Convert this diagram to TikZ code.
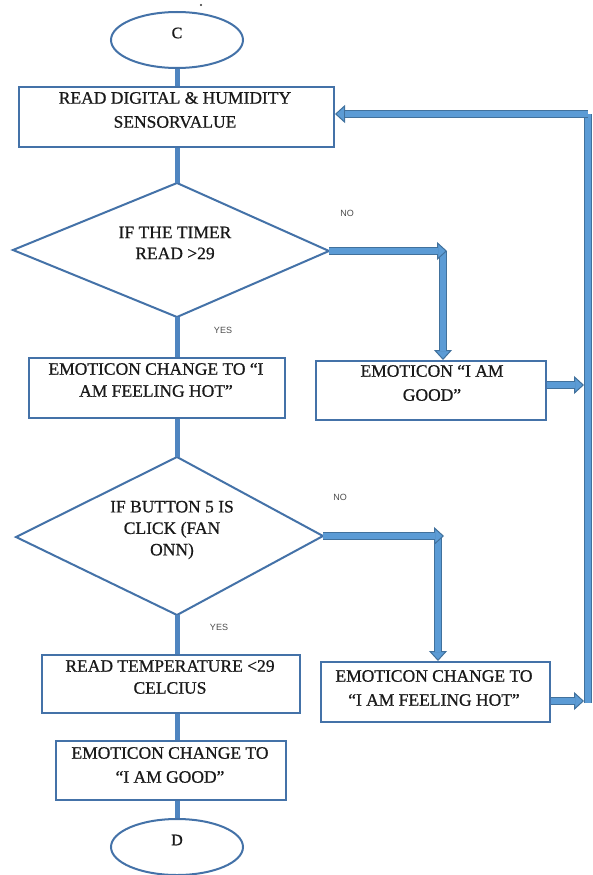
\documentclass[tikz,border=0pt]{standalone}
\usepackage{fontspec}
\setmainfont{Liberation Serif}
\newfontfamily\boxfont{Liberation Serif}[FakeBold=0.7]
\newfontfamily\lblfont{Liberation Sans}
\usetikzlibrary{shapes.geometric,arrows.meta}
\definecolor{outline}{RGB}{68,114,168}
\definecolor{linkblue}{RGB}{79,133,192}
\definecolor{fillblue}{RGB}{91,155,213}
\definecolor{edgeblue}{RGB}{65,113,156}
\tikzset{
  box/.style={draw=outline,line width=2pt,fill=white,rectangle,inner sep=0pt},
  term/.style={draw=outline,line width=2pt,ellipse,inner sep=0pt,
    minimum width=132pt,minimum height=56pt},
  decide/.style={draw=outline,line width=2pt,line join=miter},
  txt/.style={align=center,inner sep=0pt,text=black!90,
    font=\boxfont\fontsize{17.5}{22}\selectfont},
  link/.style={draw=linkblue,line width=5pt},
  fat/.style={draw=edgeblue,line width=8pt,
    -{Triangle[length=10pt,width=18pt,fill=fillblue,line width=1pt]},
    postaction={draw=fillblue,line width=5.6pt,-,shorten >=9.5pt}},
  fatplain/.style={draw=edgeblue,line width=8pt,
    postaction={draw=fillblue,line width=5.6pt}},
  lbl/.style={font=\lblfont\fontsize{9}{10}\selectfont,text=black!70},
}
\begin{document}
\begin{tikzpicture}[x=1pt,y=-1pt]
\useasboundingbox[fill=white] (0,0) rectangle (592,875);

% stray mark above the start terminal
\fill[black!80] (201,5) circle (1.1pt);

% terminals
\node[term] (c) at (177,40) {};
\node[txt,font=\boxfont\fontsize{16}{18}\selectfont] (ct) at (177,33) {C};
\node[term] (d) at (177,847) {};
\node[txt,font=\boxfont\fontsize{16}{18}\selectfont] (dt) at (177,840) {D};

% process boxes
\node[box,minimum width=315pt,minimum height=60pt] (b1) at (176.5,117) {};
\node[txt,font=\boxfont\fontsize{17.5}{24}\selectfont] (b1t) at (175,110) {READ DIGITAL \& HUMIDITY\\SENSORVALUE};

\node[box,minimum width=256pt,minimum height=60pt] (b2) at (157,388) {};
\node[txt] (b2t) at (156,380) {EMOTICON CHANGE TO “I\\AM FEELING HOT”};

\node[box,minimum width=230pt,minimum height=59pt] (b3) at (431,390.5) {};
\node[txt,font=\boxfont\fontsize{17.5}{24}\selectfont] (b3t) at (432,383) {EMOTICON “I AM\\GOOD”};

\node[box,minimum width=258pt,minimum height=58pt] (b4) at (171,684) {};
\node[txt] (b4t) at (170,677) {READ TEMPERATURE <29\\CELCIUS};

\node[box,minimum width=229pt,minimum height=60pt] (b5) at (435.5,692) {};
\node[txt,font=\boxfont\fontsize{17.5}{24}\selectfont] (b5t) at (434,688) {EMOTICON CHANGE TO\\“I AM FEELING HOT”};

\node[box,minimum width=230pt,minimum height=59pt] (b6) at (171,770.5) {};
\node[txt,font=\boxfont\fontsize{17.5}{24}\selectfont] (b6t) at (170,765) {EMOTICON CHANGE TO\\“I AM GOOD”};

% decisions
\coordinate (d1t) at (177,183); \coordinate (d1r) at (329,251);
\coordinate (d1b) at (177,317); \coordinate (d1l) at (13,250);
\draw[decide] (d1t) -- (d1r) -- (d1b) -- (d1l) -- cycle;
\node[txt,font=\boxfont\fontsize{17.5}{21}\selectfont] (d1) at (175,243) {IF THE TIMER\\READ >29};

\coordinate (d2t) at (177,457); \coordinate (d2r) at (323,536);
\coordinate (d2b) at (177,615); \coordinate (d2l) at (16,537);
\draw[decide] (d2t) -- (d2r) -- (d2b) -- (d2l) -- cycle;
\node[txt,font=\boxfont\fontsize{17.5}{21.5}\selectfont] (d2) at (172,530) {IF BUTTON 5 IS\\CLICK (FAN\\ONN)};

% main downward flow
\draw[link] (c.south) -- (c.south |- b1.north);
\draw[link] (b1.south -| d1t) -- (d1t);
\draw[link] (d1b) -- (d1b |- b2.north);
\draw[link] (d2t |- b2.south) -- (d2t);
\draw[link] (d2b) -- (d2b |- b4.north);
\draw[link] (d2b |- b4.south) -- (d2b |- b6.north);
\draw[link] (d.north |- b6.south) -- (d.north);

% NO branches
\coordinate (n1) at (443,251);
\coordinate (n2) at (438,536);
\draw[fat] (n1) -- (n1 |- b3.north);
\draw[fat] (d1r) -- ([xshift=4pt]n1);
\draw[fat] (n2) -- (n2 |- b5.north);
\draw[fat] (d2r) -- ([xshift=6pt]n2);

% feedback loop on the right
\coordinate (r1) at (588,114);
\coordinate (r2) at (588,385);
\coordinate (r3) at (588,703);
\draw[fatplain] (r3) -- (r1);
\draw[fat] (b3.east |- r2) -- ([xshift=-4pt]r2);
\draw[fat] (b5.east |- 0,701) -- ([xshift=-4pt]r3 |- 0,701);
\draw[fat] (r1) -- (b1.east |- r1);

% branch labels
\node[lbl] (no1) at (347,213) {NO};
\node[lbl] (yes1) at (223,330) {YES};
\node[lbl] (no2) at (340,497) {NO};
\node[lbl] (yes2) at (219,627) {YES};
\end{tikzpicture}
\end{document}
